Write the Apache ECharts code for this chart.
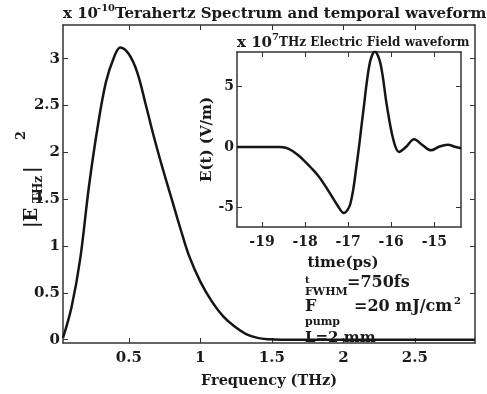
<!DOCTYPE html>
<html>
<head>
<meta charset="utf-8">
<script src="https://cdn.jsdelivr.net/npm/echarts@6/dist/echarts.min.js"></script>
<style>
  html, body { margin: 0; padding: 0; background: #fff; }
  #main { width: 487px; height: 394px; }
</style>
</head>
<body>
<div id="main"></div>
<script>
// spectrum |E_THz|^2 (x 1e-10) vs frequency (THz)
var freq = [0.04, 0.10, 0.16, 0.22, 0.28, 0.34, 0.40, 0.44, 0.50, 0.56, 0.62, 0.68, 0.74, 0.80, 0.86, 0.92, 1.00, 1.08, 1.16, 1.24, 1.32, 1.40, 1.48, 1.56, 1.70, 2.0, 2.3, 2.6, 2.92];
var power = [0.02, 0.35, 0.86, 1.62, 2.25, 2.75, 3.03, 3.12, 3.05, 2.85, 2.50, 2.14, 1.81, 1.50, 1.19, 0.90, 0.62, 0.41, 0.25, 0.14, 0.06, 0.02, 0.005, 0, 0, 0, 0, 0, 0];

// electric field waveform E(t) (x 1e7 V/m) vs time (ps)
var time = [-19.58, -19.1, -18.6, -18.45, -18.3, -18.15, -18.0, -17.85, -17.7, -17.55, -17.4, -17.25, -17.1, -16.95, -16.8, -16.65, -16.5, -16.38, -16.25, -16.1, -15.95, -15.82, -15.66, -15.47, -15.27, -15.08, -14.88, -14.69, -14.5, -14.38];
var field = [0, 0, 0, -0.05, -0.3, -0.7, -1.2, -1.75, -2.35, -3.1, -3.95, -4.8, -5.45, -4.7, -1.4, 2.9, 6.9, 7.9, 6.9, 3.4, 0.6, -0.4, 0, 0.65, 0.15, -0.27, 0.05, 0.2, 0, -0.1];

var freqTicks = [0.5, 1, 1.5, 2, 2.5];
var powerTicks = [0, 0.5, 1, 1.5, 2, 2.5, 3];
var timeTicks = [-19, -18, -17, -16, -15];
var fieldTicks = [-5, 0, 5];

var chart = echarts.init(document.getElementById('main'));

var font = 'DejaVu Serif';
var ink = '#1a1a1a';
var axisCol = '#333';

function pairs(xs, ys) {
    var out = [];
    for (var i = 0; i < xs.length; i++) out.push([xs[i], ys[i]]);
    return out;
}

function axis(grid, pos, min, max, ticks, labels, extra) {
    var a = {
        type: 'value', gridIndex: grid, position: pos, min: min, max: max,
        axisLine: { show: true, onZero: false, lineStyle: { color: axisCol, width: 1.5 } },
        axisTick: { show: true, inside: true, length: 5, customValues: ticks, lineStyle: { color: axisCol } },
        axisLabel: { show: labels, customValues: ticks, color: ink, fontFamily: font, fontWeight: 'bold', fontSize: 14 },
        splitLine: { show: false }
    };
    for (var k in extra) a[k] = extra[k];
    return a;
}

var lbl = function (size, margin) {
    return { show: true, color: ink, fontFamily: font, fontWeight: 'bold', fontSize: size, margin: margin };
};

var txt = function (x, y, s, size, opt) {
    var st = { text: s, fill: ink, font: 'bold ' + size + 'px "' + font + '"', textVerticalAlign: 'middle' };
    for (var k in opt) st[k] = opt[k];
    return { type: 'text', x: x, y: y, style: st, z: 10 };
};

var xa0 = axis(0, 'bottom', 0.04, 2.92, freqTicks, true, {
    name: 'Frequency (THz)', nameLocation: 'middle', nameGap: 31,
    nameTextStyle: { color: ink, fontFamily: font, fontWeight: 'bold', fontSize: 14.5 }
});
xa0.axisLabel = lbl(15, 8); xa0.axisLabel.customValues = freqTicks;

var ya0 = axis(0, 'left', -0.035, 3.36, powerTicks, true, {});
ya0.axisLabel = lbl(15, 3); ya0.axisLabel.customValues = powerTicks;

var ya2 = axis(1, 'left', -6.6, 7.85, fieldTicks, true, {
    name: 'E(t) (V/m)', nameLocation: 'middle', nameGap: 22,
    nameTextStyle: { color: ink, fontFamily: font, fontWeight: 'bold', fontSize: 15 }
});
ya2.axisLabel = lbl(14, 3); ya2.axisLabel.customValues = fieldTicks;

var option = {
    animation: false,
    backgroundColor: '#fff',
    grid: [
        { left: 63, top: 25, right: 12, bottom: 45 },
        { left: 237, top: 52, right: 26, bottom: 167, show: true, backgroundColor: '#fff', borderWidth: 0 }
    ],
    xAxis: [
        xa0,
        axis(0, 'top', 0.04, 2.92, freqTicks, false, {}),
        axis(1, 'bottom', -19.58, -14.38, timeTicks, true, {
            name: 'time(ps)', nameLocation: 'middle', nameGap: 29,
            nameTextStyle: { color: ink, fontFamily: font, fontWeight: 'bold', fontSize: 15, padding: [0, 12, 0, 0] }
        }),
        axis(1, 'top', -19.58, -14.38, timeTicks, false, {})
    ],
    yAxis: [
        ya0,
        axis(0, 'right', -0.035, 3.36, powerTicks, false, {}),
        ya2,
        axis(1, 'right', -6.6, 7.85, fieldTicks, false, {})
    ],
    series: [
        {
            type: 'line', xAxisIndex: 0, yAxisIndex: 0,
            data: pairs(freq, power), smooth: 0.35, showSymbol: false,
            lineStyle: { color: '#151515', width: 2.5 }
        },
        {
            type: 'line', xAxisIndex: 2, yAxisIndex: 2,
            data: pairs(time, field), smooth: 0.35, showSymbol: false,
            lineStyle: { color: '#151515', width: 2.5 }
        }
    ],
    graphic: [
        // main title
        txt(63, 14, 'x 10', 15),
        txt(97, 8, '-10', 10),
        txt(115, 14, 'Terahertz Spectrum and temporal waveform', 15),
        // inset title
        txt(237, 43, 'x 10', 15),
        txt(272, 37, '7', 10),
        txt(279, 43, 'THz Electric Field waveform', 12),
        // y axis name of main plot, rotated
        {
            type: 'group', x: 32, y: 228, rotation: Math.PI / 2,
            children: [
                txt(0, 0, '|E', 18),
                txt(25, 7, 'THz', 12),
                txt(55, 0, '|', 18),
                txt(88, -10, '2', 13)
            ]
        },
        // annotations
        txt(305, 280, 't', 10),
        txt(305, 292, 'FWHM', 11),
        txt(347, 283, '=750fs', 16),
        txt(305, 307, 'F', 16),
        txt(305, 322, 'pump', 11),
        txt(354, 307, '=20 mJ/cm', 16),
        txt(454, 301, '2', 10),
        txt(305, 338, 'L=2 mm', 15)
    ]
};

chart.setOption(option);
</script>
</body>
</html>
